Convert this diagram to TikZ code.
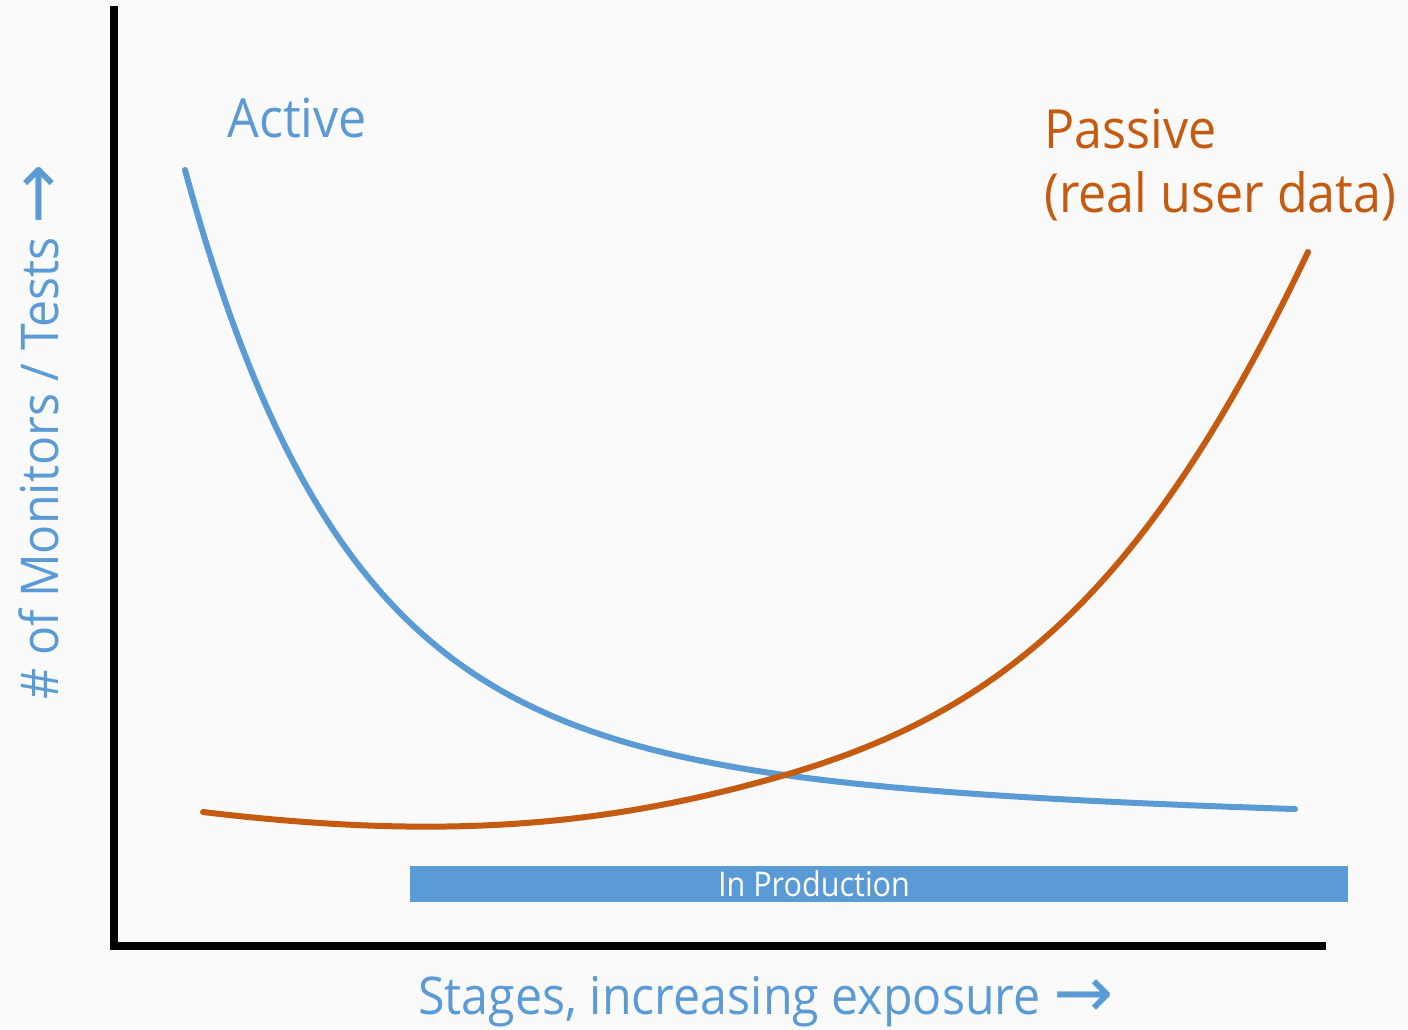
\documentclass[tikz,border=0pt]{standalone}
\usepackage{fontspec}
\setmainfont{Open Sans}[FakeStretch=0.93]
\newfontfamily\arrowfont{DejaVu Sans}
\newcommand{\bigarrow}{\raisebox{-0.06em}{\arrowfont\fontsize{36}{36}\selectfont →}}
\definecolor{bgc}{HTML}{FAFAFB}
\definecolor{actblue}{HTML}{5B9BD5}
\definecolor{pasorange}{HTML}{C55A11}
\begin{document}
\begin{tikzpicture}[x=0.5pt,y=-0.5pt,
  axis/.style={line width=4pt,black},
  curve/.style={line width=3pt,line cap=round},
  lbl/.style={inner sep=0pt,font=\fontsize{26}{31}\selectfont},
  curvelbl/.style={inner sep=0pt,font=\fontsize{27}{32}\selectfont,anchor=base west,align=left},
]
\fill[bgc] (0,0) rectangle (1408,1029);
\useasboundingbox (0,0) rectangle (1408,1029);
% axes
\coordinate (ytop) at (114,6);
\coordinate (origin) at (114,946);
\coordinate (xend) at (1326,946);
\draw[axis] (ytop) -- (origin) -- (xend);
% production bar
\node[draw=none,fill=actblue,minimum width=469pt,minimum height=18pt,inner sep=0pt] (bar) at (879,884) {};
\node[text=white,inner sep=0pt,font=\addfontfeature{FakeStretch=0.9}\fontsize{17}{20}\selectfont] (prod) at (814,884) {In Production};
% curves
\draw[curve,actblue] plot[domain=185:1295,samples=200,smooth] (\x,{830-560*exp(-(\x-185)/158)-100*exp(-(\x-185)/700)});
\coordinate (pstart) at (203,812);
\coordinate (pcross) at (785,775);
\coordinate (pend) at (1308,252);
\draw[curve,pasorange] (pstart) .. controls (453,842) and (615,824) .. (pcross)
  .. controls (1005,711) and (1148,588) .. (pend);
% labels
\node[curvelbl,text=actblue] (active) at (227,137) {Active};
\node[curvelbl,text=pasorange] (passive) at (1044,212) {Passive\\(real user data)};
\node[lbl,text=actblue,anchor=base] (xlab) at (766,1014) {Stages, increasing exposure \bigarrow};
\node[lbl,text=actblue,anchor=base,rotate=90] (ylab) at (58,432) {\# of Monitors / Tests \bigarrow};
\end{tikzpicture}
\end{document}
